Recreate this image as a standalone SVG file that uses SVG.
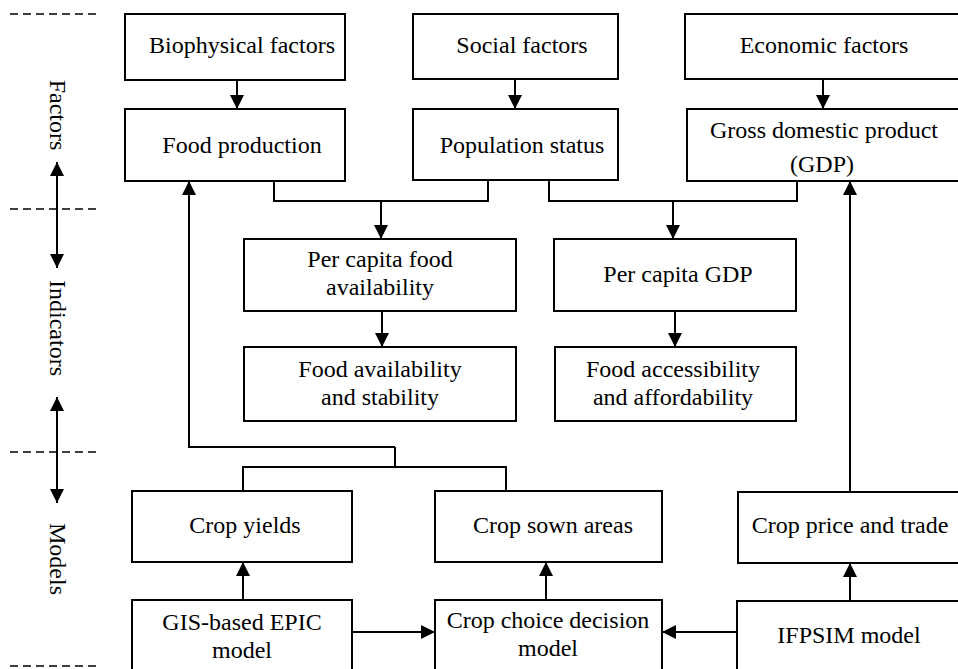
<svg xmlns="http://www.w3.org/2000/svg" width="958" height="669" viewBox="0 0 958 669">
<defs>
<marker id="ah" markerUnits="userSpaceOnUse" markerWidth="14" markerHeight="14" refX="14" refY="7" orient="auto">
<path d="M0,0 L14,7 L0,14 z" fill="#000"/>
</marker>
<style>
.box{fill:#fff;stroke:#000;stroke-width:2}
.t{font-family:"Liberation Serif","Times New Roman",serif;font-size:24px;fill:#000;text-anchor:middle}
.c{fill:none;stroke:#000;stroke-width:2}
.a{fill:none;stroke:#000;stroke-width:2;marker-end:url(#ah)}
.d{fill:none;stroke:#000;stroke-width:1.5;stroke-dasharray:8 5}
</style>
</defs>
<rect width="958" height="669" fill="#fff"/>
<g id="sidebar">
<path class="d" d="M10,14 H97 M10,209 H97 M10,452 H97 M10,666 H97"/>
<path class="a" d="M57,215 V162"/>
<path class="a" d="M57,210 V268"/>
<path class="a" d="M57,455 V397"/>
<path class="a" d="M57,450 V503"/>
<text class="t" transform="translate(50,115) rotate(90)">Factors</text>
<text class="t" transform="translate(50,328) rotate(90)">Indicators</text>
<text class="t" transform="translate(50,559) rotate(90)">Models</text>
</g>
<g id="connectors">
<path class="a" d="M237,80 V109"/>
<path class="a" d="M515,79 V109"/>
<path class="a" d="M823,79 V109"/>
<path class="c" d="M274,181 V201 H488 V180"/>
<path class="a" d="M381,201 V239"/>
<path class="c" d="M549,180 V201 H797 V181"/>
<path class="a" d="M673,201 V239"/>
<path class="a" d="M382,311 V347"/>
<path class="a" d="M675,311 V347"/>
<path class="c" d="M243,491 V467 H506 V491 M395,467 V447"/>
<path class="a" d="M395,447 H189 V181"/>
<path class="a" d="M243,600 V562"/>
<path class="a" d="M546,600 V562"/>
<path class="a" d="M850,601 V563"/>
<path class="a" d="M850,492 V181"/>
<path class="a" d="M352,632 H435"/>
<path class="a" d="M737,632 H662"/>
</g>
<g id="biophysical"><rect class="box" x="125" y="14" width="220" height="66"/><text class="t" x="242" y="53">Biophysical factors</text></g>
<g id="social"><rect class="box" x="413" y="14" width="205" height="65"/><text class="t" x="522" y="53">Social factors</text></g>
<g id="economic"><rect class="box" x="685" y="14" width="290" height="65"/><text class="t" x="824" y="53">Economic factors</text></g>
<g id="food-production"><rect class="box" x="125" y="109" width="220" height="72"/><text class="t" x="242" y="153">Food production</text></g>
<g id="population"><rect class="box" x="413" y="109" width="205" height="71"/><text class="t" x="522" y="153">Population status</text></g>
<g id="gdp"><rect class="box" x="687" y="109" width="290" height="72"/><text class="t" x="824" y="138">Gross domestic product</text><text class="t" x="822" y="172">(GDP)</text></g>
<g id="per-capita-food"><rect class="box" x="244" y="239" width="272" height="72"/><text class="t" x="380" y="267">Per capita food</text><text class="t" x="380" y="295">availability</text></g>
<g id="per-capita-gdp"><rect class="box" x="554" y="239" width="242" height="72"/><text class="t" x="678" y="282">Per capita GDP</text></g>
<g id="food-availability"><rect class="box" x="244" y="347" width="272" height="74"/><text class="t" x="380" y="377">Food availability</text><text class="t" x="380" y="405">and stability</text></g>
<g id="food-accessibility"><rect class="box" x="555" y="347" width="241" height="74"/><text class="t" x="673" y="377">Food accessibility</text><text class="t" x="673" y="405">and affordability</text></g>
<g id="crop-yields"><rect class="box" x="132" y="491" width="220" height="71"/><text class="t" x="245" y="533">Crop yields</text></g>
<g id="crop-sown"><rect class="box" x="435" y="491" width="227" height="71"/><text class="t" x="553" y="533">Crop sown areas</text></g>
<g id="crop-price"><rect class="box" x="738" y="492" width="240" height="71"/><text class="t" x="850" y="533">Crop price and trade</text></g>
<g id="gis-epic"><rect class="box" x="132" y="600" width="220" height="90"/><text class="t" x="242" y="630">GIS-based EPIC</text><text class="t" x="242" y="658">model</text></g>
<g id="crop-choice"><rect class="box" x="435" y="600" width="227" height="90"/><text class="t" x="548" y="628">Crop choice decision</text><text class="t" x="548" y="656">model</text></g>
<g id="ifpsim"><rect class="box" x="737" y="601" width="240" height="90"/><text class="t" x="849" y="643">IFPSIM model</text></g>
</svg>
